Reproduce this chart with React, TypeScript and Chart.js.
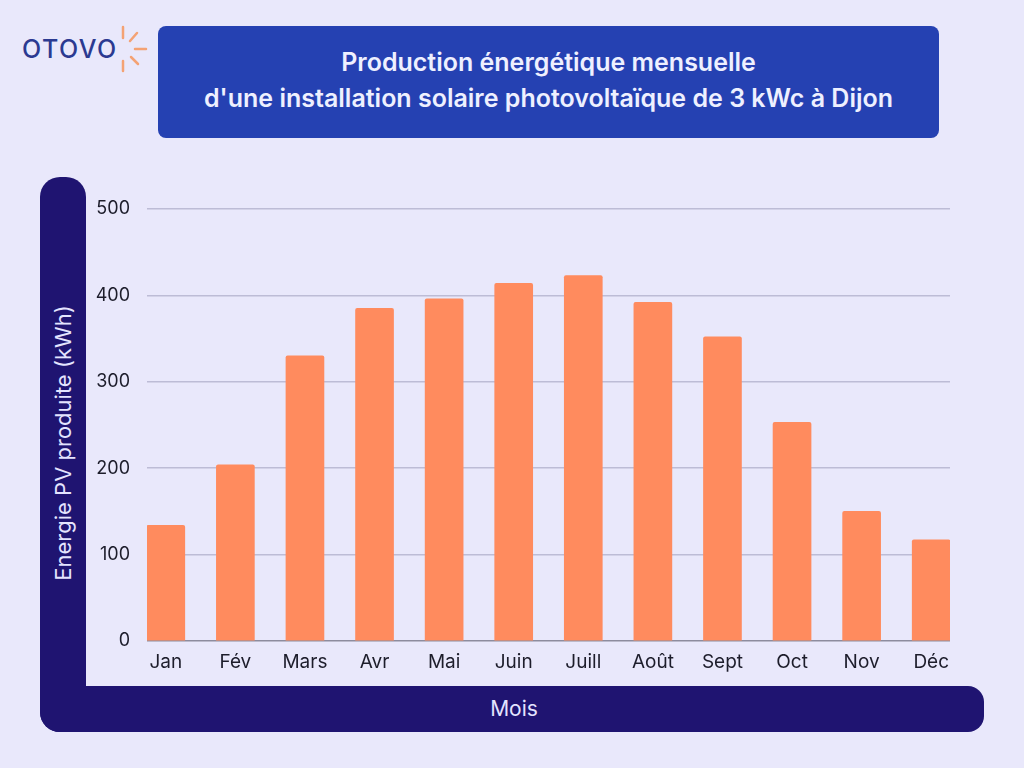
import React, { useEffect, useRef } from "react";
import { Chart, registerables } from "chart.js";

Chart.register(...registerables);

const months = ["Jan", "Fév", "Mars", "Avr", "Mai", "Juin", "Juill", "Août", "Sept", "Oct", "Nov", "Déc"];
const production = [134, 204, 330, 385, 396, 414, 423, 392, 352, 253, 150, 117];
const yTicks = [0, 100, 200, 300, 400, 500];
const titleLine1 = "Production énergétique mensuelle";
const titleLine2 = "d'une installation solaire photovoltaïque de 3 kWc à Dijon";
const yTitle = "Energie PV produite (kWh)";
const xTitle = "Mois";
const brand = "OTOVO";

const FONT = "Inter, 'Open Sans', sans-serif";
const BG = "#e9e8fb";
const NAVY = "#1f1471";
const BLUE = "#2541b2";
const BAR = "#ff8b5e";

function BarChart() {
  const ref = useRef<HTMLCanvasElement | null>(null);
  useEffect(() => {
    if (!ref.current) return;
    const chart = new Chart(ref.current, {
      type: "bar",
      data: {
        datasets: [
          {
            data: months.map((_, i) => ({ x: i, y: production[i] })),
            backgroundColor: BAR,
            barThickness: 38,
            borderRadius: 2,
            borderSkipped: "bottom",
          },
        ],
      },
      options: {
        animation: false,
        responsive: true,
        maintainAspectRatio: false,
        layout: { padding: { top: 29, right: 26, left: 0, bottom: 0 } },
        plugins: { legend: { display: false }, tooltip: { enabled: false } },
        scales: {
          x: {
            type: "linear",
            offset: false,
            min: -0.27,
            max: 11.27,
            afterBuildTicks: (axis: any) => {
              axis.ticks = months.map((_, i) => ({ value: i }));
            },
            afterFit: (s: any) => {
              s.height = 39;
            },
            grid: { display: false, drawTicks: false, offset: false },
            border: { display: false },
            ticks: {
              autoSkip: false,
              maxRotation: 0,
              padding: 10,
              color: "#1d1d2b",
              font: { family: FONT, size: 19 },
              callback: (v: any) => months[v as number] ?? "",
            },
          },
          y: {
            min: 0,
            max: 500,
            afterBuildTicks: (axis: any) => {
              axis.ticks = yTicks.map((v) => ({ value: v }));
            },
            afterFit: (s: any) => {
              s.width = 61;
            },
            grid: {
              drawTicks: false,
              lineWidth: 1.5,
              color: (ctx: any) => (ctx.tick && ctx.tick.value === 0 ? "#8d8c9e" : "#bdbcd6"),
            },
            border: { display: false },
            ticks: {
              padding: 17,
              color: "#1d1d2b",
              font: { family: FONT, size: 18 },
            },
          },
        },
      } as any,
    });
    return () => chart.destroy();
  }, []);
  return <canvas ref={ref} />;
}

export default function App() {
  return (
    <div
      style={{
        position: "fixed",
        left: 0,
        top: 0,
        width: 1024,
        height: 768,
        background: BG,
        fontFamily: FONT,
        overflow: "hidden",
      }}
    >
      {/* logo */}
      <div
        style={{
          position: "absolute",
          left: 22,
          top: 34,
          fontSize: 25,
          fontWeight: 500,
          letterSpacing: 1.5,
          color: "#2b3a91",
          lineHeight: "30px",
        }}
      >
        {brand}
      </div>
      <svg style={{ position: "absolute", left: 0, top: 0 }} width={160} height={90}>
        <g stroke="#f4a274" strokeWidth={2.5} strokeLinecap="round">
          <line x1={123} y1={27} x2={123} y2={38} />
          <line x1={130} y1={41} x2={137} y2={33} />
          <line x1={135} y1={49} x2={146} y2={49} />
          <line x1={131} y1={57} x2={138} y2={64} />
          <line x1={123} y1={61} x2={123} y2={71} />
        </g>
      </svg>

      {/* title box */}
      <div
        style={{
          position: "absolute",
          left: 158,
          top: 26,
          width: 781,
          height: 112,
          background: BLUE,
          borderRadius: 8,
          color: "#eef0ff",
          fontWeight: 600,
          fontSize: 25,
          textAlign: "center",
          display: "flex",
          flexDirection: "column",
          justifyContent: "center",
          lineHeight: "36px",
        }}
      >
        <div style={{ marginTop: -4 }}>{titleLine1}</div>
        <div>{titleLine2}</div>
      </div>

      {/* L frame */}
      <div
        style={{
          position: "absolute",
          left: 40,
          top: 177,
          width: 46,
          height: 555,
          background: NAVY,
          borderRadius: "20px 20px 0 20px",
        }}
      />
      <div
        style={{
          position: "absolute",
          left: 40,
          top: 686,
          width: 944,
          height: 46,
          background: NAVY,
          borderRadius: "0 16px 16px 20px",
        }}
      />
      <div
        style={{
          position: "absolute",
          left: 63,
          top: 443,
          transform: "translate(-50%, -50%) rotate(-90deg)",
          whiteSpace: "nowrap",
          color: "#e4e4ff",
          fontSize: 22,
        }}
      >
        {yTitle}
      </div>
      <div
        style={{
          position: "absolute",
          left: 514,
          top: 708,
          transform: "translate(-50%, -50%)",
          color: "#e4e4ff",
          fontSize: 21,
        }}
      >
        {xTitle}
      </div>

      {/* chart */}
      <div style={{ position: "absolute", left: 86, top: 180, width: 890, height: 500 }}>
        <BarChart />
      </div>
    </div>
  );
}
